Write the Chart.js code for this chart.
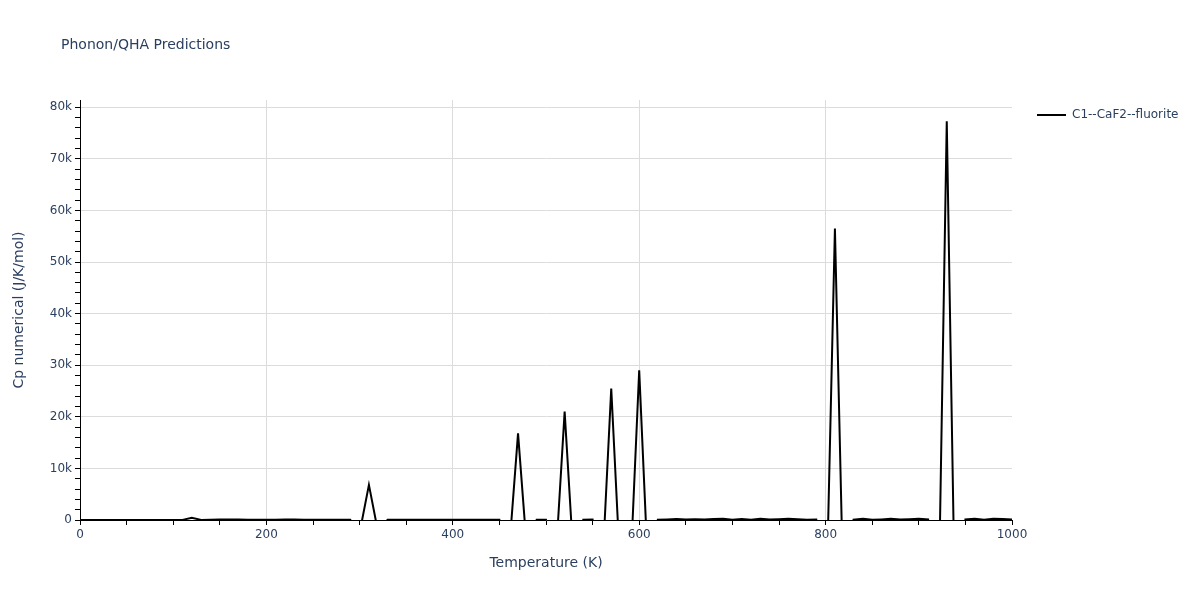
<!DOCTYPE html>
<html>
<head>
<meta charset="utf-8">
<title>Phonon/QHA Predictions</title>
<script src="https://cdn.jsdelivr.net/npm/chart.js@4.4.0/dist/chart.umd.min.js"></script>
<style>
    body { margin: 0; background: #fff; }
    #wrap { width: 1200px; height: 600px; }
</style>
</head>
<body>
<div id="wrap"><canvas id="cp-chart" width="1200" height="600"></canvas></div>
<script>
// ===== DATA =====
const chartTitle = 'Phonon/QHA Predictions';
const seriesName = 'C1--CaF2--fluorite';

const temperatures = [
    0, 10, 20, 30, 40, 50, 60, 70, 80, 90,
    100, 110, 120, 130, 140, 150, 160, 170, 180, 190,
    200, 210, 220, 230, 240, 250, 260, 270, 280, 290,
    300, 310, 320, 330, 340, 350, 360, 370, 380, 390,
    400, 410, 420, 430, 440, 450, 460, 470, 480, 490,
    500, 510, 520, 530, 540, 550, 560, 570, 580, 590,
    600, 610, 620, 630, 640, 650, 660, 670, 680, 690,
    700, 710, 720, 730, 740, 750, 760, 770, 780, 790,
    800, 810, 820, 830, 840, 850, 860, 870, 880, 890,
    900, 910, 920, 930, 940, 950, 960, 970, 980, 990,
    1000
];

// negative dips fall below the visible range (axis starts at 0) -> gaps
const cpNumerical = [
    0, 0, 0, 0, 0, 0, 0, 0, 0, 0,
    0, 20, 450, 10, 60, 120, 110, 80, 50, 40,
    30, 60, 90, 100, 70, 40, 50, 60, 40, 30,
    -2500, 6800, -2500, 40, 50, 40, 60, 50, 40, 50,
    60, 50, 40, 60, 50, 50, -7000, 16800, -7000, 60,
    40, -9000, 21000, -9000, 50, 80, -11000, 25500, -11000, -12000,
    29000, -12000, 60, 120, 200, 90, 140, 110, 180, 220,
    60, 210, 70, 230, 80, 160, 240, 150, 60, 100,
    -22000, 56500, -22000, 80, 260, 40, 120, 240, 80, 160,
    220, 90, -30000, 77300, -30000, 90, 250, 40, 230, 210,
    120
];

const xTickLabels = [0, 200, 400, 600, 800, 1000];
const yTickLabels = ['0', '10k', '20k', '30k', '40k', '50k', '60k', '70k', '80k'];

// ===== STYLE =====
const textColor = '#2a3f5f';
const gridColor = '#dcdcdc';
const fontFamily = '"DejaVu Sans", Verdana, sans-serif';

// title + legend drawn at plotly-like spots
const headerPlugin = {
    id: 'header',
    afterDraw(chart) {
        const ctx = chart.ctx;
        ctx.save();
        ctx.fillStyle = textColor;
        ctx.textBaseline = 'middle';
        ctx.textAlign = 'left';
        ctx.font = '14px ' + fontFamily;
        ctx.fillText(chartTitle, 61, 45);

        // legend
        ctx.strokeStyle = '#000';
        ctx.lineWidth = 2;
        ctx.beginPath();
        ctx.moveTo(1037, 115);
        ctx.lineTo(1066, 115);
        ctx.stroke();
        ctx.font = '12px ' + fontFamily;
        ctx.fillText(seriesName, 1072, 115);
        ctx.restore();
    }
};

// minor ticks every step, labels/grid only on the major ones
function fixedTicks(max, step) {
    return scale => {
        const ticks = [];
        for (let v = 0; v <= max; v += step) ticks.push({ value: v });
        scale.ticks = ticks;
    };
}

function renderChart() {
    const ctx = document.getElementById('cp-chart').getContext('2d');

    const points = temperatures.map((t, i) => ({ x: t, y: cpNumerical[i] }));

    new Chart(ctx, {
        type: 'line',
        data: {
            datasets: [{
                label: seriesName,
                data: points,
                borderColor: '#000',
                borderWidth: 2,
                pointRadius: 0,
                tension: 0,
                fill: false
            }]
        },
        options: {
            responsive: false,
            animation: false,
            layout: { padding: { top: 100, right: 188, left: 0, bottom: 0 } },
            plugins: {
                legend: { display: false },
                tooltip: { enabled: false }
            },
            scales: {
                x: {
                    type: 'linear',
                    min: 0,
                    max: 1000,
                    afterBuildTicks: fixedTicks(1000, 50),
                    afterFit: s => { s.height = 80; },
                    border: { color: '#000', width: 1 },
                    grid: {
                        color: c => (c.tick && c.tick.value % 200 === 0 && c.tick.value > 0 && c.tick.value < 1000) ? gridColor : 'rgba(0,0,0,0)',
                        tickColor: '#000',
                        tickLength: 5
                    },
                    ticks: {
                        autoSkip: false,
                        maxRotation: 0,
                        padding: 3,
                        color: textColor,
                        font: { family: fontFamily, size: 12 },
                        callback: v => xTickLabels.includes(v) ? String(v) : ''
                    },
                    title: {
                        display: true,
                        text: 'Temperature (K)',
                        color: textColor,
                        font: { family: fontFamily, size: 14 },
                        padding: 28
                    }
                },
                y: {
                    min: 0,
                    max: 81400,
                    afterBuildTicks: fixedTicks(80000, 2000),
                    afterFit: s => { s.width = 80; },
                    border: { color: '#000', width: 1 },
                    grid: {
                        color: c => (c.tick && c.tick.value % 10000 === 0 && c.tick.value > 0) ? gridColor : 'rgba(0,0,0,0)',
                        tickColor: '#000',
                        tickLength: 5
                    },
                    ticks: {
                        autoSkip: false,
                        padding: 3,
                        color: textColor,
                        font: { family: fontFamily, size: 12 },
                        callback: v => v % 10000 === 0 ? yTickLabels[v / 10000] : ''
                    },
                    title: {
                        display: true,
                        text: 'Cp numerical (J/K/mol)',
                        color: textColor,
                        font: { family: fontFamily, size: 14 },
                        padding: 11
                    }
                }
            }
        },
        plugins: [headerPlugin]
    });
}

renderChart();
</script>
</body>
</html>
